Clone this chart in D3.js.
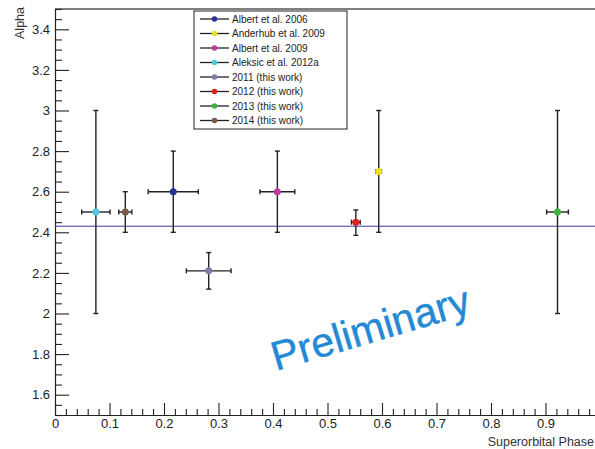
<!DOCTYPE html>
<html>
<head>
<meta charset="utf-8">
<script src="https://cdn.jsdelivr.net/npm/d3@7"></script>
<style>
  html, body { margin: 0; padding: 0; background: #fff; }
  svg { display: block; font-family: "Liberation Sans", Arial, Helvetica, sans-serif; }
</style>
</head>
<body>
<svg id="chart" width="595" height="449"></svg>
<script>
// ---- data ----
const seriesNames = ["Albert et al. 2006", "Anderhub et al. 2009", "Albert et al. 2009", "Aleksic et al. 2012a",
  "2011 (this work)", "2012 (this work)", "2013 (this work)", "2014 (this work)"];
const seriesColors = ["#2a2f9c", "#e8e020", "#c03aa8", "#4cc8dc", "#7c7ca8", "#e02020", "#3cb43c", "#7a5a48"];
const phase       = [0.217, 0.594, 0.408, 0.075, 0.282, 0.552, 0.922, 0.129];
const alpha       = [2.60, 2.70, 2.60, 2.50, 2.21, 2.45, 2.50, 2.50];
const phaseErr    = [0.046, 0.005, 0.032, 0.026, 0.041, 0.008, 0.020, 0.012];
const alphaErrLo  = [0.20, 0.30, 0.20, 0.50, 0.09, 0.065, 0.50, 0.10];
const alphaErrHi  = [0.20, 0.30, 0.20, 0.50, 0.09, 0.060, 0.50, 0.10];
const fitAlpha = 2.43;
const xMajorTicks = [0, 0.1, 0.2, 0.3, 0.4, 0.5, 0.6, 0.7, 0.8, 0.9];
const yMajorTicks = [1.6, 1.8, 2.0, 2.2, 2.4, 2.6, 2.8, 3.0, 3.2, 3.4];
const xTitle = "Superorbital Phase";
const yTitle = "Alpha";
const watermark = "Preliminary";

// ---- layout ----
const svg = d3.select("#chart");
const x = d3.scaleLinear().domain([0, 1]).range([55, 600]);
const y = d3.scaleLinear().domain([1.5, 3.5]).range([415, 9]);
const fmt = d => { const s = d3.format(".1f")(d); return s.replace(/\.0$/, ""); };

const xMinor = d3.range(0, 0.99, 0.02).map(v => +v.toFixed(2)).filter(v => !xMajorTicks.some(m => Math.abs(m - v) < 1e-6));
const yMinor = d3.range(1.5, 3.5001, 0.05).map(v => +v.toFixed(2)).filter(v => !yMajorTicks.some(m => Math.abs(m - v) < 1e-6));

// top frame
svg.append("line").attr("x1", x(0)).attr("x2", 595).attr("y1", y(3.5)).attr("y2", y(3.5))
  .attr("stroke", "#555").attr("stroke-width", 1.3);

// x axis
const gx = svg.append("g").attr("transform", `translate(0,${y(1.5)})`);
gx.call(d3.axisTop(x).tickValues(xMinor).tickSize(6).tickFormat(""))
  .call(g => g.select(".domain").remove());
const gx2 = svg.append("g").attr("transform", `translate(0,${y(1.5)})`);
gx2.call(d3.axisTop(x).tickValues(xMajorTicks).tickSize(12).tickFormat(fmt).tickSizeOuter(0));
gx2.selectAll(".tick text").attr("transform", "translate(0,28)").attr("font-size", 13).attr("fill", "#222")
  .attr("font-family", "Liberation Sans, Arial, sans-serif");
gx2.select(".domain").attr("stroke", "#222").attr("stroke-width", 1.2);

// y axis
const gy = svg.append("g").attr("transform", `translate(${x(0)},0)`);
gy.call(d3.axisRight(y).tickValues(yMinor).tickSize(7).tickFormat(""))
  .call(g => g.select(".domain").remove());
const gy2 = svg.append("g").attr("transform", `translate(${x(0)},0)`);
gy2.call(d3.axisRight(y).tickValues(yMajorTicks).tickSize(14).tickFormat(fmt).tickSizeOuter(0));
gy2.selectAll(".tick text").attr("x", -5).attr("text-anchor", "end").attr("font-size", 13).attr("fill", "#222")
  .attr("font-family", "Liberation Sans, Arial, sans-serif");
gy2.select(".domain").attr("stroke", "#222").attr("stroke-width", 1.2);
svg.selectAll(".tick line").attr("stroke", "#222").attr("stroke-width", 1.1);

// axis titles
svg.append("text").attr("x", 594).attr("y", 446).attr("text-anchor", "end")
  .attr("font-size", 12.5).attr("fill", "#333").text(xTitle);
svg.append("text").attr("transform", `translate(24,7) rotate(-90)`).attr("text-anchor", "end")
  .attr("font-size", 12.5).attr("fill", "#333").text(yTitle);

// fit line
svg.append("line").attr("x1", x(0)).attr("x2", x(1)).attr("y1", y(fitAlpha)).attr("y2", y(fitAlpha))
  .attr("stroke", "#3a3aa8").attr("stroke-width", 1);

// watermark
svg.append("text").attr("transform", "translate(276,371) rotate(-16.5)")
  .attr("font-size", 41).attr("fill", "#2389d4").attr("stroke", "#2389d4").attr("stroke-width", 0.4)
  .attr("font-family", "Liberation Sans, Arial, sans-serif")
  .text(watermark);

// error bars and markers
const pts = phase.map((p, i) => ({ p, a: alpha[i], ex: phaseErr[i], lo: alphaErrLo[i], hi: alphaErrHi[i], c: seriesColors[i] }));
const cap = 2.5;
const eb = svg.append("g").attr("stroke", "#222").attr("stroke-width", 1.4).attr("fill", "none");
pts.forEach(d => {
  const cx = x(d.p), cy = y(d.a);
  eb.append("line").attr("x1", cx).attr("x2", cx).attr("y1", y(d.a - d.lo)).attr("y2", y(d.a + d.hi));
  eb.append("line").attr("x1", x(d.p - d.ex)).attr("x2", x(d.p + d.ex)).attr("y1", cy).attr("y2", cy);
  eb.append("line").attr("x1", cx - cap).attr("x2", cx + cap).attr("y1", y(d.a - d.lo)).attr("y2", y(d.a - d.lo));
  eb.append("line").attr("x1", cx - cap).attr("x2", cx + cap).attr("y1", y(d.a + d.hi)).attr("y2", y(d.a + d.hi));
  eb.append("line").attr("x1", x(d.p - d.ex)).attr("x2", x(d.p - d.ex)).attr("y1", cy - cap).attr("y2", cy + cap);
  eb.append("line").attr("x1", x(d.p + d.ex)).attr("x2", x(d.p + d.ex)).attr("y1", cy - cap).attr("y2", cy + cap);
});
svg.append("g").selectAll("circle").data(pts).join("circle")
  .attr("cx", d => x(d.p)).attr("cy", d => y(d.a)).attr("r", 3.5).attr("fill", d => d.c);

// legend
const lg = svg.append("g");
lg.append("rect").attr("x", 194).attr("y", 11).attr("width", 153).attr("height", 118)
  .attr("fill", "#fff").attr("stroke", "#222").attr("stroke-width", 1);
seriesNames.forEach((name, i) => {
  const yy = 19 + i * 14.5;
  lg.append("line").attr("x1", 200).attr("x2", 229).attr("y1", yy).attr("y2", yy).attr("stroke", "#222").attr("stroke-width", 1.3);
  lg.append("circle").attr("cx", 214.5).attr("cy", yy).attr("r", 2.8).attr("fill", seriesColors[i]);
  lg.append("text").attr("x", 232).attr("y", yy + 3.5).attr("font-size", 10).attr("fill", "#222").text(name);
});
</script>
</body>
</html>
